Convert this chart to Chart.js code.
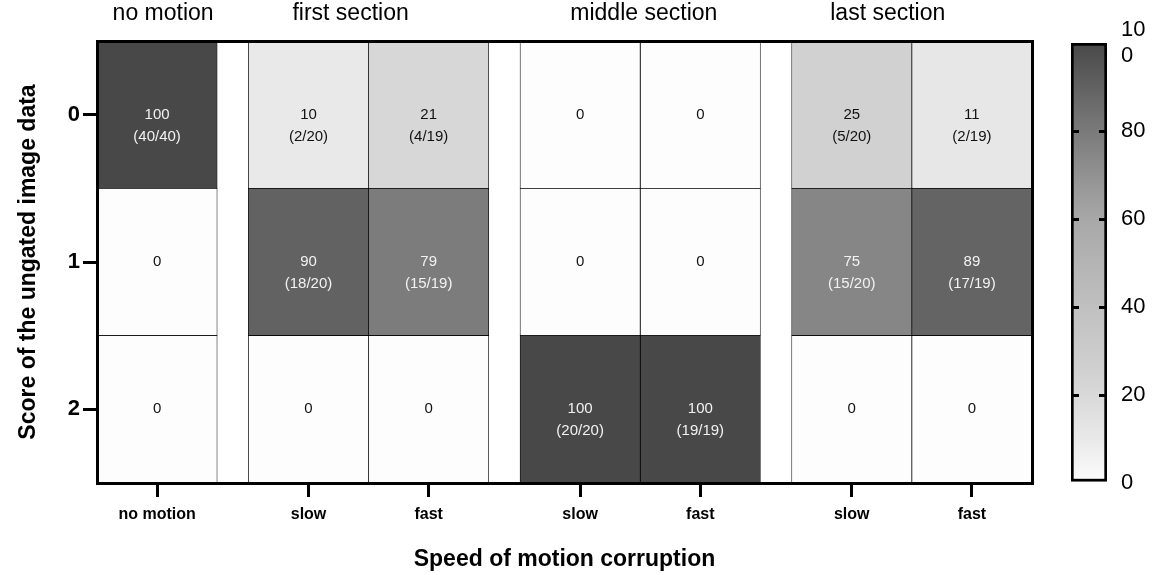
<!DOCTYPE html>
<html>
<head>
<meta charset="utf-8">
<title>Score of the ungated image data by speed of motion corruption</title>
<script src="https://cdn.jsdelivr.net/npm/chart.js@4.4.1/dist/chart.umd.min.js"></script>
<style>
  html, body { margin: 0; padding: 0; background: #ffffff; }
  #wrap { position: relative; width: 1162px; height: 575px; }
  #main { position: absolute; left: 0; top: 0; }
  #scalebar { position: absolute; left: 1040px; top: 0; }
</style>
</head>
<body>
<div id="wrap">
  <canvas id="main" width="1162" height="575"></canvas>
  <canvas id="scalebar" width="122" height="575"></canvas>
</div>
<script>
// ---- data ----
const rowLabels = ['0', '1', '2'];
const columnLabels = ['no motion', 'slow', 'fast', 'slow', 'fast', 'slow', 'fast'];
const columnSection = [0, 1, 1, 2, 2, 3, 3];
const sectionLabels = ['no motion', 'first section', 'middle section', 'last section'];

// percentage of cases per score (rows) and column
const pctScore0 = [100, 10, 21, 0, 0, 25, 11];
const pctScore1 = [0, 90, 79, 0, 0, 75, 89];
const pctScore2 = [0, 0, 0, 100, 100, 0, 0];

// case counts behind the percentages
const countScore0 = ['40/40', '2/20', '4/19', null, null, '5/20', '2/19'];
const countScore1 = [null, '18/20', '15/19', null, null, '15/20', '17/19'];
const countScore2 = [null, null, null, '20/20', '19/19', null, null];

const colorbarTicks = [0, 20, 40, 60, 80, 100];

// ---- styling ----
const FONT = '"Liberation Sans", Arial, Helvetica, sans-serif';
const GAP = 0.26;                       // blank strip between sections, in cell widths
const TOTAL = columnLabels.length + GAP * (sectionLabels.length - 1);
// horizontal nudge of each section heading from its section centre, in cell widths
const HEADING_SHIFT = [0.05, -0.15, 0.03, -0.2];
// grey level stops for the colour scale (value -> grey 0..255)
const GREY_STOPS = [[0, 253], [10, 233], [20, 217], [25, 209], [40, 192], [60, 168], [75, 134], [80, 122], [90, 98], [100, 72]];
const FRAME = { display: true, width: 3, color: '#000', z: 1 };

function greyLevel(v) {
  for (let i = 1; i < GREY_STOPS.length; i++) {
    const [v0, g0] = GREY_STOPS[i - 1];
    const [v1, g1] = GREY_STOPS[i];
    if (v <= v1) return Math.round(g0 + (g1 - g0) * (v - v0) / (v1 - v0));
  }
  return GREY_STOPS[GREY_STOPS.length - 1][1];
}
function grey(v) { const g = greyLevel(v); return `rgb(${g},${g},${g})`; }

const colStart = columnLabels.map((_, i) => i + GAP * columnSection[i]);
const colCenter = colStart.map(s => s + 0.5);
const sectionCenter = sectionLabels.map((_, s) => {
  const c = colCenter.filter((_, i) => columnSection[i] === s);
  return c.reduce((a, b) => a + b, 0) / c.length + HEADING_SHIFT[s];
});

const pctRows = [pctScore0, pctScore1, pctScore2];
const countRows = [countScore0, countScore1, countScore2];

const datasets = columnLabels.map((label, i) => ({
  label,
  data: rowLabels.map(() => [colStart[i], colStart[i] + 1]),
  pct: pctRows.map(r => r[i]),
  counts: countRows.map(r => r[i]),
  backgroundColor: ctx => grey(ctx.dataset.pct[ctx.dataIndex]),
  borderColor: '#000',
  borderWidth: 0.75,
  borderSkipped: false,
  grouped: false,
  barPercentage: 1,
  categoryPercentage: 1
}));

// value and count printed inside each cell
const cellText = {
  id: 'cellText',
  afterDatasetsDraw(chart) {
    const ctx = chart.ctx;
    ctx.save();
    ctx.font = '15px ' + FONT;
    ctx.textAlign = 'center';
    ctx.textBaseline = 'middle';
    chart.data.datasets.forEach((ds, di) => {
      chart.getDatasetMeta(di).data.forEach((el, ri) => {
        const p = el.getProps(['x', 'y', 'base'], true);
        const cx = (p.x + p.base) / 2;
        const v = ds.pct[ri];
        ctx.fillStyle = v >= 50 ? '#f2f2f2' : '#111111';
        ctx.fillText(String(v), cx, p.y);
        if (ds.counts[ri]) ctx.fillText('(' + ds.counts[ri] + ')', cx, p.y + 22);
      });
    });
    ctx.restore();
  }
};

new Chart(document.getElementById('main'), {
  type: 'bar',
  data: { labels: rowLabels, datasets },
  options: {
    indexAxis: 'y',
    responsive: false,
    animation: false,
    layout: { padding: { left: 0, right: 130, top: 0, bottom: 0 } },
    plugins: { legend: { display: false }, tooltip: { enabled: false } },
    scales: {
      x: {
        type: 'linear', position: 'bottom', min: 0, max: TOTAL,
        afterBuildTicks: s => { s.ticks = colCenter.map(v => ({ value: v })); },
        afterFit: s => { s.height = 92; },
        ticks: {
          autoSkip: false, maxRotation: 0, padding: 8, color: '#000',
          font: { family: FONT, size: 16, weight: 'bold' },
          callback: (v, i) => columnLabels[i]
        },
        grid: { display: true, drawOnChartArea: false, drawTicks: true, tickLength: 14, lineWidth: 3, color: '#000' },
        border: FRAME,
        title: {
          display: true, text: 'Speed of motion corruption', color: '#000',
          font: { family: FONT, size: 23, weight: 'bold' }, padding: { top: 0, bottom: 2 }
        }
      },
      x2: {
        type: 'linear', axis: 'x', position: 'top', min: 0, max: TOTAL,
        afterBuildTicks: s => { s.ticks = sectionCenter.map(v => ({ value: v })); },
        afterFit: s => { s.height = 41; },
        ticks: {
          autoSkip: false, maxRotation: 0, padding: 6, color: '#000',
          font: { family: FONT, size: 23 },
          callback: (v, i) => sectionLabels[i]
        },
        grid: { display: false },
        border: FRAME
      },
      y: {
        type: 'category', position: 'left', offset: true,
        afterFit: s => { s.width = 97; },
        ticks: { padding: 3, color: '#000', font: { family: FONT, size: 22, weight: 'bold' } },
        grid: { display: true, offset: false, drawOnChartArea: false, drawTicks: true, tickLength: 14, lineWidth: 3, color: '#000' },
        border: FRAME,
        title: {
          display: true, text: 'Score of the ungated image data', color: '#000',
          font: { family: FONT, size: 23, weight: 'bold' }, padding: { top: 15, bottom: 0 }
        }
      },
      y2: {
        type: 'linear', axis: 'y', position: 'right', min: 0, max: 1,
        afterFit: s => { s.width = 0; },
        ticks: { display: false },
        grid: { display: false },
        border: FRAME
      }
    }
  },
  plugins: [cellText]
});

// ---- colour scale bar ----
new Chart(document.getElementById('scalebar'), {
  type: 'bar',
  data: {
    labels: ['%'],
    datasets: [{
      data: [[colorbarTicks[0], colorbarTicks[colorbarTicks.length - 1]]],
      backgroundColor: ctx => {
        const chart = ctx.chart;
        if (!chart.chartArea) return grey(50);
        const s = chart.scales.y;
        const g = chart.ctx.createLinearGradient(0, s.getPixelForValue(0), 0, s.getPixelForValue(100));
        GREY_STOPS.forEach(([v, c]) => g.addColorStop(v / 100, `rgb(${c},${c},${c})`));
        return g;
      },
      borderColor: '#000',
      borderWidth: 3,
      borderSkipped: false,
      barPercentage: 1,
      categoryPercentage: 1
    }]
  },
  options: {
    responsive: false,
    animation: false,
    layout: { padding: { left: 31, right: 0, top: 43, bottom: 92 } },
    plugins: { legend: { display: false }, tooltip: { enabled: false } },
    scales: {
      x: { display: false },
      y: {
        type: 'linear', position: 'right', min: 0, max: 100,
        afterBuildTicks: s => { s.ticks = colorbarTicks.map(v => ({ value: v })); },
        afterFit: s => { s.width = 55; },
        ticks: {
          padding: 14, color: '#000', font: { family: FONT, size: 22 },
          callback: v => (v === 100 ? ['10', '0'] : String(v))
        },
        // short marks on both inner edges: dashed grid lines drawn over the bar
        grid: {
          display: true, drawOnChartArea: true, drawTicks: false, lineWidth: 3, z: 1,
          color: ctx => (ctx.tick && ctx.tick.value > 0 && ctx.tick.value < 100 ? '#000' : 'rgba(0,0,0,0)')
        },
        border: { display: false, dash: [8, 20] }
      }
    }
  }
});
</script>
</body>
</html>
